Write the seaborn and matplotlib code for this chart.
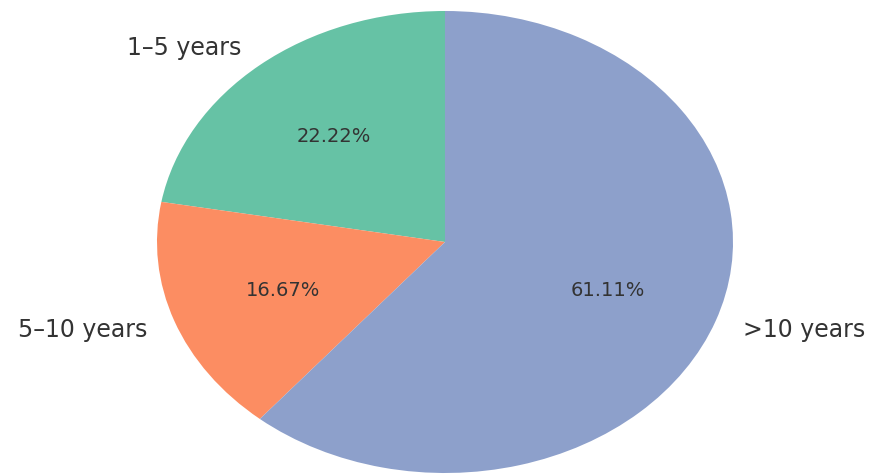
import matplotlib
matplotlib.use("Agg")
import matplotlib.pyplot as plt
import seaborn as sns

# experience groups and respondent counts
groups = ["1–5 years", "5–10 years", ">10 years"]
counts = [4, 3, 11]

sns.set_theme(style="white")
colors = sns.color_palette("Set2", 3)

fig = plt.figure(figsize=(8.78, 4.77), dpi=100)
ax = fig.add_axes([0, 0, 1, 1])

wedges, texts, autotexts = ax.pie(counts, labels=groups, colors=colors,
                                  autopct="%1.2f%%", startangle=90,
                                  counterclock=True, labeldistance=1.1,
                                  pctdistance=0.6,
                                  wedgeprops={"linewidth": 0},
                                  textprops={"fontsize": 17, "color": "#333333"})
for t in autotexts:
    t.set_fontsize(14)
    t.set_color("#333333")

# the original pie is stretched wider than tall
cx, cy, rx, ry = 445, 243, 288, 231
ax.set_aspect("auto")
ax.set_xlim(-cx / rx, (878 - cx) / rx)
ax.set_ylim(-(477 - cy) / ry, cy / ry)
ax.axis("off")

fig.savefig("out.png", dpi=100)
